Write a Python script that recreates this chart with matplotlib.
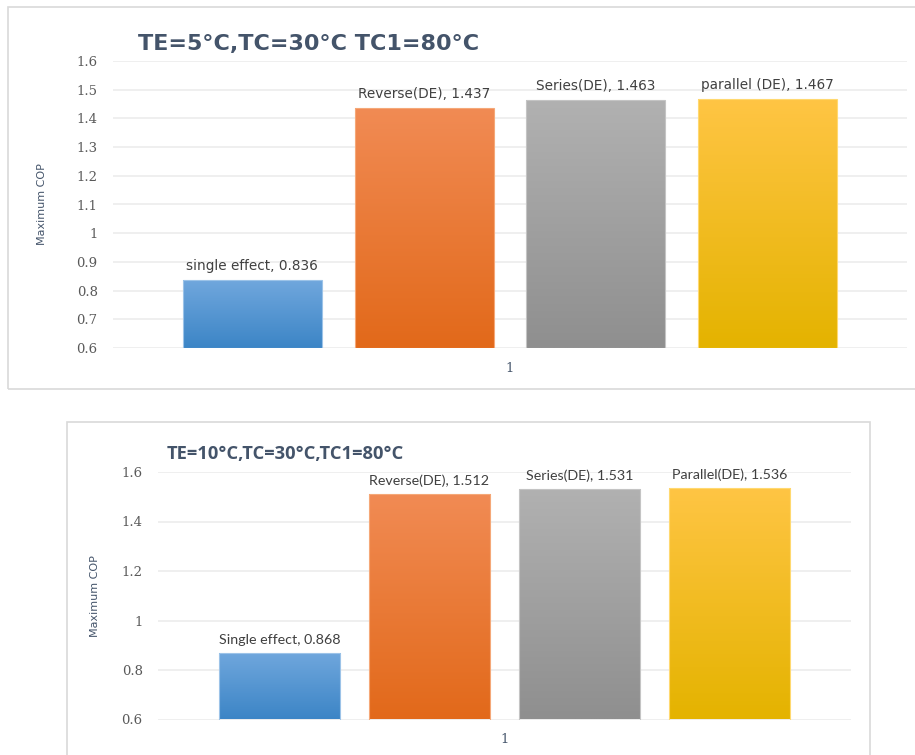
import numpy as np
import matplotlib
matplotlib.use("Agg")
import matplotlib.pyplot as plt
from matplotlib.colors import to_rgb
from matplotlib.patches import Rectangle

# case 1: TE=5, TC=30, TC1=80
names_5 = ["single effect", "Reverse(DE)", "Series(DE)", "parallel (DE)"]
cop_5 = [0.836, 1.437, 1.463, 1.467]
ticks_5 = [0.6, 0.7, 0.8, 0.9, 1.0, 1.1, 1.2, 1.3, 1.4, 1.5, 1.6]

# case 2: TE=10, TC=30, TC1=80
names_10 = ["Single effect", "Reverse(DE)", "Series(DE)", "Parallel(DE)"]
cop_10 = [0.868, 1.512, 1.531, 1.536]
ticks_10 = [0.6, 0.8, 1.0, 1.2, 1.4, 1.6]

# (top, bottom) gradient colours per series
fills = [("#70a7dd", "#3c85c6"),
         ("#f18b54", "#e2691a"),
         ("#b1b1b1", "#8f8f8f"),
         ("#ffc544", "#e4b300")]
edges = ["#9cc3e8", "#f5a878", "#c4c4c4", "#ffd970"]

W, H = 915, 755
TITLE_C = "#44546a"
TEXT_C = "#404040"
TICK_C = "#595959"


def fig_box(x0, y0, x1, y1):
    # pixel box (top-left origin) -> figure fraction [l, b, w, h]
    return [x0 / W, 1 - y1 / H, (x1 - x0) / W, (y1 - y0) / H]


def fmt(v):
    return "1" if v == 1.0 else f"{v:g}"


def draw_panel(fig, box, names, vals, ticks, label_font, tick_font, fs_tick, fs_lab):
    ax = fig.add_axes(fig_box(*box))
    step, width = 0.2165, 0.175
    xs = 1 + (np.arange(len(vals)) - 1.5) * step
    ymin = ticks[0]
    ax.set_xlim(0.5, 1.5)
    ax.set_ylim(ymin, ticks[-1])
    for t in ticks:
        ax.axhline(t, color="#ebebeb", lw=1.1, zorder=0)
    bars = ax.bar(xs, np.array(vals) - ymin, bottom=ymin, width=width,
                  facecolor="none", edgecolor="none", zorder=2)
    for rect, v, name, (c_top, c_bot), ec in zip(bars, vals, names, fills, edges):
        grad = np.linspace(0, 1, 128)[:, None, None]
        img = (1 - grad) * np.array(to_rgb(c_top)) + grad * np.array(to_rgb(c_bot))
        x0 = rect.get_x()
        im = ax.imshow(img, extent=(x0, x0 + width, ymin, v), aspect="auto",
                       origin="upper", zorder=2, interpolation="bilinear")
        im.set_clip_path(rect)
        ax.add_patch(Rectangle((x0, ymin), width, v - ymin, facecolor="none",
                               edgecolor=ec, lw=0.8, zorder=3))
        ax.annotate(f"{name}, {v:.3f}", (rect.get_x() + width / 2, v),
                    xytext=(0, 5), textcoords="offset points", ha="center",
                    va="bottom", fontsize=fs_lab, color=TEXT_C,
                    family=label_font)
    ax.set_yticks(ticks)
    ax.set_yticklabels([fmt(t) for t in ticks], family=tick_font)
    ax.set_xticks([1])
    ax.set_xticklabels(["1"], family=tick_font)
    ax.tick_params(axis="y", length=0, pad=11, labelsize=fs_tick, labelcolor=TICK_C)
    ax.tick_params(axis="x", length=0, pad=10, labelsize=fs_tick, labelcolor=TITLE_C)
    for s in ax.spines.values():
        s.set_visible(False)
    ax.set_ylabel("Maximum COP", fontsize=8, color=TITLE_C,
                  family=["Liberation Sans Narrow", "DejaVu Sans"])
    return ax


fig = plt.figure(figsize=(W / 100, H / 100), dpi=100)

# panel frames
for x0, y0, x1, y1 in [(8, 7, 930, 389), (67, 422, 870, 770)]:
    fig.patches.append(Rectangle((x0 / W, 1 - y1 / H), (x1 - x0) / W, (y1 - y0) / H,
                                 transform=fig.transFigure, facecolor="none",
                                 edgecolor="#d9d9d9", lw=1.2, clip_on=False))

ax1 = draw_panel(fig, (113, 61, 907, 348), names_5, cop_5, ticks_5,
                 "DejaVu Sans", "DejaVu Serif", 9.5, 9.8)
ax1.yaxis.set_label_coords(-0.083, 0.5)
fig.text(138 / W, 1 - 44 / H, "TE=5°C,TC=30°C TC1=80°C", fontsize=16,
         fontweight="bold", color=TITLE_C, va="center", family="DejaVu Sans")

ax2 = draw_panel(fig, (158, 472, 851, 719.5), names_10, cop_10, ticks_10,
                 "Lato", "DejaVu Serif", 9.5, 10.3)
ax2.yaxis.set_label_coords(-0.084, 0.5)
fig.text(167 / W, 1 - 454 / H, "TE=10°C,TC=30°C,TC1=80°C", fontsize=13.2,
         fontweight="bold", color=TITLE_C, va="center", family="Open Sans")

fig.savefig("out.png", dpi=100)
